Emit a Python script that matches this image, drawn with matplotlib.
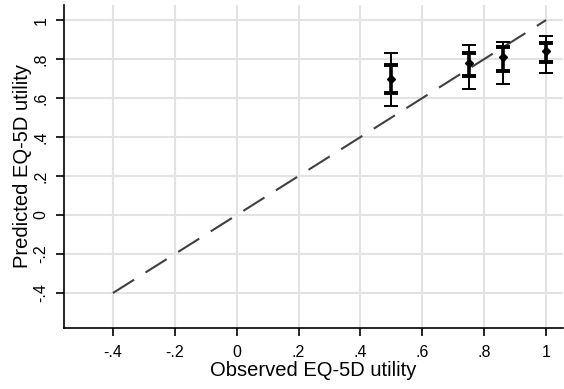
import matplotlib.pyplot as plt
import numpy as np

plt.rcParams['font.family'] = ['Liberation Sans', 'DejaVu Sans']

# observed utility groups and predicted summaries
observed = [0.5, 0.75, 0.86, 1.0]
pred_mean = [0.696, 0.778, 0.812, 0.841]
inner_lo = [0.627, 0.714, 0.740, 0.786]
inner_hi = [0.771, 0.829, 0.863, 0.884]
outer_lo = [0.561, 0.646, 0.670, 0.730]
outer_hi = [0.831, 0.870, 0.886, 0.918]

ticks = [-0.4, -0.2, 0, 0.2, 0.4, 0.6, 0.8, 1]
tick_labels = ['-.4', '-.2', '0', '.2', '.4', '.6', '.8', '1']

fig = plt.figure(figsize=(5.64, 3.89), dpi=100)
ax = fig.add_axes([0.1135, 0.157, 0.885, 0.830])

x = np.array(observed)
m = np.array(pred_mean)

# line of equality
ax.plot([-0.4, 1], [-0.4, 1], color='#404040', lw=1.5, dashes=(12, 6.5), zorder=2)

ax.errorbar(x, m, yerr=[m - np.array(outer_lo), np.array(outer_hi) - m],
            fmt='none', ecolor='black', elinewidth=1.4, capsize=4.8, capthick=1.4, zorder=3)
ax.errorbar(x, m, yerr=[m - np.array(inner_lo), np.array(inner_hi) - m],
            fmt='none', ecolor='black', elinewidth=2.6, capsize=5.3, capthick=2.8, zorder=4)
ax.plot(x, m, 'D', color='black', ms=4.5, zorder=5)

ax.set_xlim(-0.558, 1.055)
ax.set_ylim(-0.579, 1.077)
ax.set_xticks(ticks)
ax.set_xticklabels(tick_labels)
ax.set_yticks(ticks)
ax.set_yticklabels(tick_labels, rotation=90, va='center')
ax.grid(True, color='#e3e3e3', lw=1.5, zorder=0)
ax.set_axisbelow(True)
ax.tick_params(direction='out', length=6, width=1.2, pad=6, labelsize=11.5, color='black')
ax.tick_params(axis='y', pad=5)
ax.spines['top'].set_visible(False)
ax.spines['right'].set_visible(False)
ax.spines['left'].set_linewidth(1.2)
ax.spines['bottom'].set_linewidth(1.2)
ax.set_xlabel('Observed EQ-5D utility', fontsize=14.5, labelpad=1)
ax.set_ylabel('Predicted EQ-5D utility', fontsize=14.5, labelpad=1)

fig.savefig('out.png', dpi=100)
